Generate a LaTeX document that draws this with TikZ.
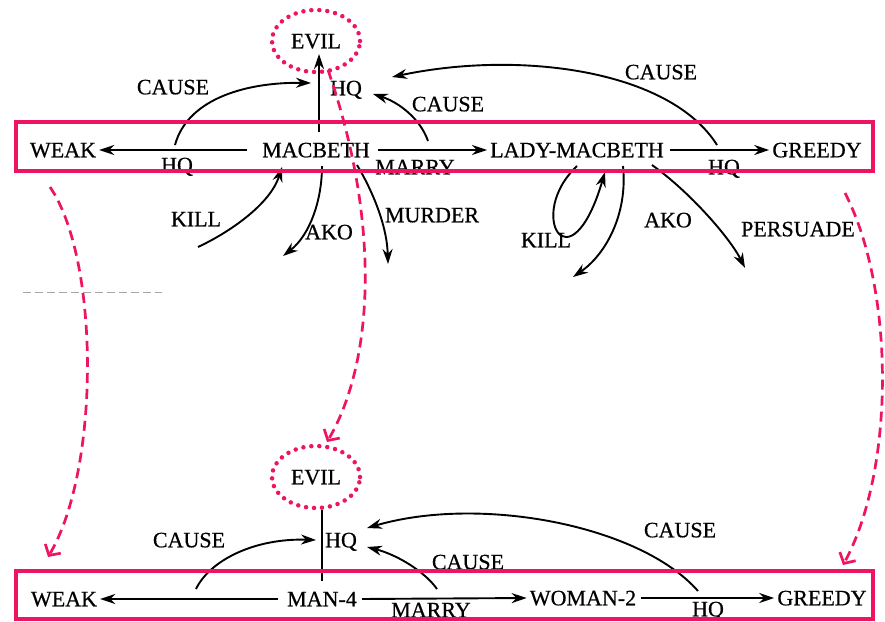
\documentclass[tikz,border=0pt]{standalone}
\usepackage{fontspec}
\setmainfont{Liberation Serif}[FakeBold=0.6]
\usetikzlibrary{arrows.meta,shapes.geometric}
\definecolor{pk}{RGB}{238,20,100}
\begin{document}
\begin{tikzpicture}[x=1pt,y=-1pt,
 lbl/.style={font=\fontsize{22}{26}\selectfont, inner sep=0pt, text height=14.6pt, text depth=0pt},
 ent/.style={lbl, inner xsep=3pt, inner ysep=0pt, minimum height=36pt},
 arr/.style={line width=1.9pt, -{Stealth[length=15pt,width=10pt]}},
 ln/.style={line width=1.9pt},
 evilbox/.style={ellipse, draw=pk, line width=4.5pt, dash pattern=on 0pt off 8pt, line cap=round, minimum width=88pt, minimum height=62pt, lbl},
 frame/.style={draw=pk, line width=3.5pt},
 pkarr/.style={draw=pk, line width=2.7pt, dash pattern=on 10pt off 6pt, -{Straight Barb[length=8pt,width=18pt]}},
 scan/.style={draw=gray!70, line width=0.8pt, dash pattern=on 8pt off 4pt}
]
\useasboundingbox (0,0) rectangle (885,621);
\clip (0,0) rectangle (885,621);
\fill[white] (0,0) rectangle (885,621);

% ---------- top network ----------
\node[evilbox] (evilT) at (316,41) {EVIL};
\node[lbl] (hqT) at (346,88) {HQ};
\node[ent] (weakT) at (63,150) {WEAK};
\node[ent] (mac) at (316,150) {MACBETH};
\node[ent] (lady) at (577,150) {LADY-MACBETH};
\node[ent] (greedyT) at (817,150) {GREEDY};

\node[lbl] (hqT1) at (177,165) {HQ};
\node[lbl] (marryT) at (415,167) {MARRY};
\node[lbl] (hqT2) at (724,167) {HQ};
\node[lbl] (causeT1) at (173,87) {CAUSE};
\node[lbl] (causeT2) at (448,104) {CAUSE};
\node[lbl] (causeT3) at (661,72) {CAUSE};
\node[lbl] (killT1) at (196,219) {KILL};
\node[lbl] (akoT1) at (329,232) {AKO};
\node[lbl] (murderT) at (432,215) {MURDER};
\node[lbl] (killT2) at (546,240) {KILL};
\node[lbl] (akoT2) at (668,220) {AKO};
\node[lbl] (persuadeT) at (798,229) {PERSUADE};

\coordinate (evilTin) at (319,54);
\coordinate (a1) at (175,145);  \coordinate (a1e) at (311,83);
\coordinate (a2) at (428,141);  \coordinate (a2e) at (373,94);
\coordinate (a3) at (717,145);  \coordinate (a3e) at (392,77);
\coordinate (k1) at (198,247);  \coordinate (k1e) at (282,167);
\coordinate (o1) at (322,166);  \coordinate (o1e) at (283,256);
\coordinate (m1) at (357,165);  \coordinate (m1e) at (388,264);
\coordinate (k2) at (577,166);  \coordinate (k2e) at (605,172);
\coordinate (o2) at (623,166);  \coordinate (o2e) at (573,277);
\coordinate (s2) at (652,165);  \coordinate (s2e) at (745,268);

\draw[arr, shorten <=12pt] (mac.west) -- (weakT.east);
\draw[arr, shorten <=5pt] (mac.east) -- (lady.west);
\draw[arr, shorten <=3pt] (lady.east) -- (greedyT.west);
\draw[arr] (mac.north -| evilTin) -- (evilTin);

\draw[arr] (a1) .. controls (188,97) and (250,82) .. (a1e);
\draw[arr] (a2) .. controls (420,118) and (398,102) .. (a2e);
\draw[arr] (a3) .. controls (670,70) and (520,50) .. (a3e);
\draw[arr] (k1) .. controls (228,233) and (270,205) .. (k1e);
\draw[arr] (o1) .. controls (322,200) and (310,235) .. (o1e);
\draw[arr] (m1) .. controls (372,190) and (387,225) .. (m1e);
\draw[arr] (k2) .. controls (525,215) and (570,290) .. (k2e);
\draw[arr] (o2) .. controls (628,215) and (605,255) .. (o2e);
\draw[arr] (s2) .. controls (690,192) and (730,238) .. (s2e);

% ---------- bottom network ----------
\node[evilbox] (evilB) at (316,477) {EVIL};
\node[lbl] (hqB) at (341,540) {HQ};
\node[ent] (weakB) at (64,599) {WEAK};
\node[ent] (man) at (322,599) {MAN-4};
\node[ent] (woman) at (583,598) {WOMAN-2};
\node[ent] (greedyB) at (822,598) {GREEDY};

\node[lbl] (causeB1) at (189,540) {CAUSE};
\node[lbl] (causeB2) at (468,562) {CAUSE};
\node[lbl] (causeB3) at (680,530) {CAUSE};
\node[lbl] (marryB) at (431,610) {MARRY};
\node[lbl] (hqB2) at (708,609) {HQ};

\coordinate (b1) at (196,589);  \coordinate (b1e) at (316,540);
\coordinate (b2) at (437,589);  \coordinate (b2e) at (367,547);
\coordinate (b3) at (698,591);  \coordinate (b3e) at (367,528);

\draw[ln] (evilB.south -| man) -- (man.north);
\draw[arr, shorten <=6pt] (man.west) -- (weakB.east);
\draw[arr, shorten <=2pt] (man.east) -- (woman.west);
\draw[arr, shorten <=2pt] (woman.east) -- (greedyB.west);

\draw[arr] (b1) .. controls (210,560) and (255,538) .. (b1e);
\draw[arr] (b2) .. controls (425,572) and (398,555) .. (b2e);
\draw[arr] (b3) .. controls (640,525) and (480,495) .. (b3e);

% ---------- scan trace ----------
\draw[scan] (23,292) -- (162,292);

% ---------- pink overlays ----------
\draw[frame] (16,122) rectangle (873,171);
\draw[frame] (16,571) rectangle (873,619);

\coordinate (p1s) at (50,187);  \coordinate (p1e) at (48,557);
\coordinate (p2s) at (328,70);  \coordinate (p2e) at (327,442);
\coordinate (p3s) at (845,193); \coordinate (p3e) at (843,565);
\draw[pkarr] (p1s) .. controls (100,260) and (100,470) .. (p1e);
\draw[pkarr] (p2s) .. controls (380,220) and (375,360) .. (p2e);
\draw[pkarr] (p3s) .. controls (895,290) and (895,470) .. (p3e);
\end{tikzpicture}
\end{document}
